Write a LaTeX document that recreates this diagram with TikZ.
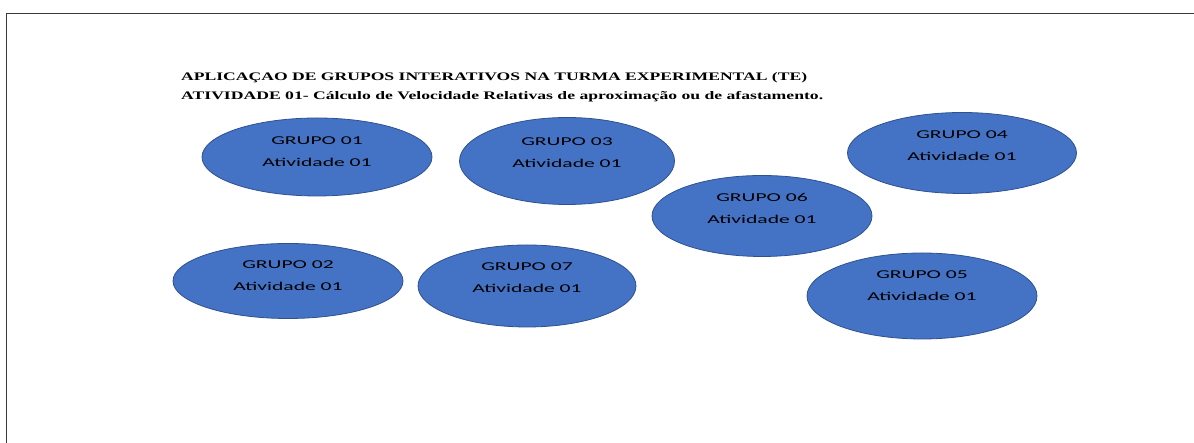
\documentclass[tikz,border=0pt]{standalone}
\usepackage{fontspec}
\usepackage{graphicx}
\usetikzlibrary{shapes.geometric}
\newfontfamily\titulofonte{Liberation Serif}
\newfontfamily\grupofonte{Carlito}
\definecolor{azulgrupo}{HTML}{4472C4}
\definecolor{bordagrupo}{HTML}{2F528F}
\definecolor{moldura}{HTML}{3A3A3A}
\newcommand{\esticado}[1]{\scalebox{1.8}[1]{#1}}

\begin{document}
\begin{tikzpicture}
    [x=1pt, y=1pt,
    grupo/.style={ellipse, draw=bordagrupo, line width=0.8pt, fill=azulgrupo, inner sep=0pt},
    rotulo/.style={inner sep=0pt, align=center, text=black, font=\grupofonte\fontsize{12}{22}\selectfont},
    titulo/.style={inner sep=0pt, anchor=base west, font=\titulofonte\bfseries\fontsize{11.5}{14}\selectfont}]
    \useasboundingbox (0,0) rectangle (1194,443);
    %% moldura
    \draw[moldura, line width=1.6pt] (6.5,0) -- (6.5,429.5) -- (1194,429.5);
    %% titulos
    \node[titulo] (tit1) at (181,362.5) {\resizebox{626pt}{\height}{APLICAÇAO DE GRUPOS INTERATIVOS NA TURMA EXPERIMENTAL (TE)}};
    \node[titulo] (tit2) at (181,343.8) {\resizebox{642pt}{\height}{ATIVIDADE 01- Cálculo de Velocidade Relativas de aproximação ou de afastamento.}};
    %% grupos
    \foreach \n/\x/\y/\w/\h/\d in {01/317/286/230/78/5, 03/567/282/215/87/8, 04/962/290/229/81/7.5,
        06/762/227/220/81/7.5, 02/288/162/230/75/5, 07/527/157/218/82/8, 05/922/147/230/86/10.5}{
        \node[grupo, minimum width=\w pt, minimum height=\h pt] (g\n) at (\x,\y) {};
        \node[rotulo] (t\n) at ([yshift=\d pt]g\n.center) {\esticado{GRUPO \n}\\\esticado{Atividade 01}};
    }
\end{tikzpicture}
\end{document}
